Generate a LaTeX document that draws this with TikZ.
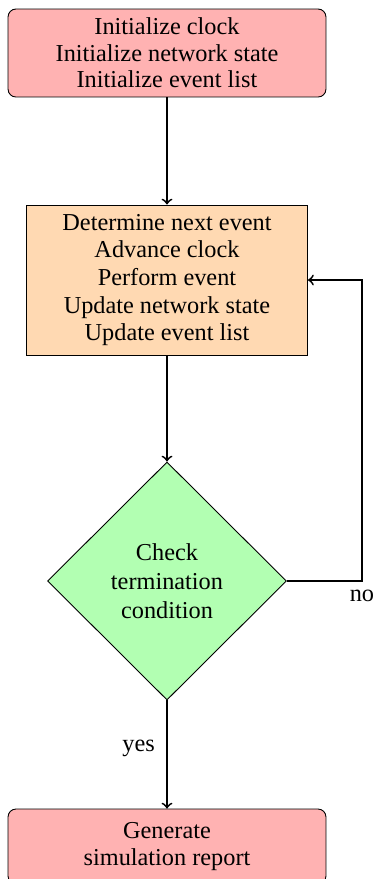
\documentclass[tikz,border=0pt]{standalone}
\usepackage{fontspec}
\setmainfont{Liberation Serif}
\usetikzlibrary{shapes.geometric}
\tikzset{
  startstop/.style={rectangle, rounded corners=3.5pt, draw=black, fill=red!30,
    minimum width=141.3pt, align=center, inner sep=2pt},
  process/.style={rectangle, draw=black, fill=orange!30,
    minimum width=124.9pt, minimum height=66.7pt, align=center, inner sep=2pt,
    font=\fontsize{10.8}{12.3}\selectfont},
  decision/.style={diamond, draw=black, fill=green!30, minimum width=106.2pt,
    minimum height=105.8pt, align=center, inner sep=0pt,
    font=\fontsize{10.8}{12.9}\selectfont},
  flow/.style={thick, ->},
  lbl/.style={inner sep=0pt, font=\fontsize{10.8}{12}\selectfont}
}
\begin{document}
\begin{tikzpicture}[x=0.44444pt, y=-0.44444pt]
  \useasboundingbox (0,0) rectangle (375,879);

  \node[startstop, minimum height=39.1pt, font=\fontsize{10.8}{11.8}\selectfont]
    (init) at (167,53)
    {Initialize clock\\Initialize network state\\Initialize event list};
  \node[process] (proc) at (167,280)
    {Determine next event\\Advance clock\\Perform event\\Update network state\\Update event list};
  \node[decision] (check) at (167,581)
    {Check\\termination\\condition};
  \node[startstop, minimum height=33.3pt, font=\fontsize{10.8}{12}\selectfont]
    (report) at (167,846.5)
    {Generate\\simulation report};

  \coordinate (corner) at (362,581);

  \draw[flow] (init.south) -- (proc.north);
  \draw[flow] (proc.south) -- (check.north);
  \draw[flow] (check.east) -- (corner) |- (proc.east);
  \node[lbl, anchor=north] (no) at ([yshift=-4pt]corner) {no};
  \draw[flow] (check.south) -- node[left, lbl, xshift=-5pt, pos=0.44] (yes) {yes} (report.north);
\end{tikzpicture}
\end{document}
